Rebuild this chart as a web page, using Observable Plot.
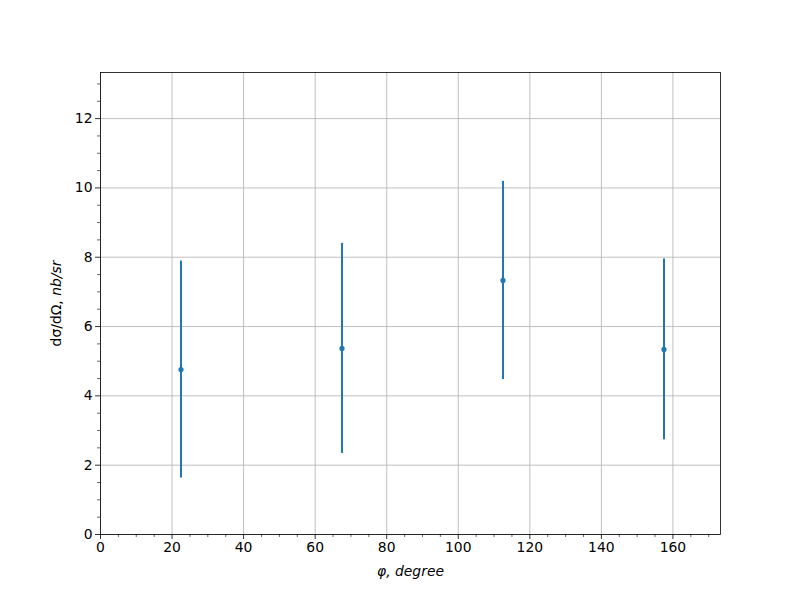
<!DOCTYPE html>
<html>
<head>
<meta charset="utf-8">
<script src="https://cdn.jsdelivr.net/npm/d3@7"></script>
<script src="https://cdn.jsdelivr.net/npm/@observablehq/plot@0.6"></script>
<style>
  html, body { margin: 0; padding: 0; background: white; }
</style>
</head>
<body>
<div id="chart"></div>
<script>
const phi = [22.5, 67.5, 112.5, 157.5];
const xsec = [4.76, 5.37, 7.33, 5.34];
const err = [3.13, 3.03, 2.86, 2.61];
const xTicks = [0, 20, 40, 60, 80, 100, 120, 140, 160];
const yTicks = [0, 2, 4, 6, 8, 10, 12];
const xMinor = d3.range(0, 175, 5).filter(v => v % 20 !== 0);
const yMinor = d3.range(0, 13.5, 0.5).filter(v => v % 2 !== 0);

const data = phi.map((x, i) => ({x, y: xsec[i], lo: xsec[i] - err[i], hi: xsec[i] + err[i]}));

const gridStyle = {stroke: "#b0b0b0", strokeOpacity: 1, strokeWidth: 0.8};
const blue = "#1f77b4";

const chart = Plot.plot({
  width: 800,
  height: 600,
  marginLeft: 100,
  marginRight: 80,
  marginTop: 72,
  marginBottom: 66,
  style: {fontFamily: "DejaVu Sans", fontSize: "13.9px", color: "black", background: "white"},
  x: {domain: [0, 173.3]},
  y: {domain: [0, 13.33]},
  marks: [
    Plot.gridX(xTicks, gridStyle),
    Plot.gridY(yTicks, gridStyle),
    Plot.ruleX(data, {x: "x", y1: "lo", y2: "hi", stroke: blue, strokeWidth: 2}),
    Plot.dot(data, {x: "x", y: "y", r: 2.6, fill: blue, stroke: null}),
    Plot.frame({stroke: "black", strokeWidth: 0.8}),
    Plot.axisX(xTicks, {tickSize: 5, tickPadding: 3, strokeWidth: 0.8, fontSize: 13.9,
      label: "φ, degree", labelAnchor: "center", labelArrow: "none", labelOffset: 41}),
    Plot.axisX(xMinor, {tickSize: 3, strokeWidth: 0.6, text: null, label: null}),
    Plot.axisY(yTicks, {tickSize: 5, tickPadding: 3, strokeWidth: 0.8, fontSize: 13.9,
      label: "dσ/dΩ, nb/sr", labelAnchor: "center", labelArrow: "none", labelOffset: 49}),
    Plot.axisY(yMinor, {tickSize: 3, strokeWidth: 0.6, text: null, label: null})
  ]
});

document.getElementById("chart").appendChild(chart);

// style the axis labels like matplotlib mathtext
const xl = chart.querySelector('[aria-label="x-axis label"] text');
if (xl) xl.setAttribute("font-style", "italic");
const yl = chart.querySelector('[aria-label="y-axis label"] text');
if (yl) {
  yl.textContent = "";
  const ns = "http://www.w3.org/2000/svg";
  const t1 = document.createElementNS(ns, "tspan");
  t1.textContent = "dσ/dΩ, ";
  const t2 = document.createElementNS(ns, "tspan");
  t2.setAttribute("font-style", "italic");
  t2.textContent = "nb/sr";
  yl.appendChild(t1);
  yl.appendChild(t2);
}
</script>
</body>
</html>
